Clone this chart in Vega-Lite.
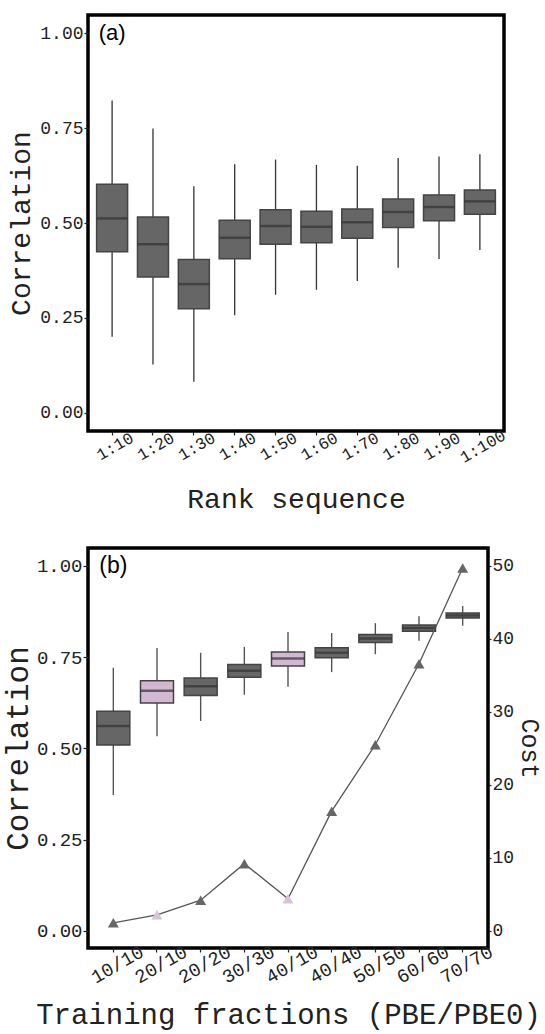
{
  "$schema": "https://vega.github.io/schema/vega-lite/v6.json",
  "background": "white",
  "padding": {"top": 13, "left": 0, "right": 5, "bottom": 0},
  "spacing": 30,
  "config": {
    "view": {"stroke": "black", "strokeWidth": 3.5},
    "axis": {"labelFont": "Liberation Mono", "titleFont": "Liberation Mono", "labelColor": "#222", "titleColor": "#222", "titleFontWeight": "normal", "domain": false, "grid": false, "tickColor": "#222", "tickWidth": 1.2}
  },
  "datasets": {
    "a": [
      {"rank": "1:10", "lower": 0.200, "q1": 0.424, "median": 0.512, "q3": 0.602, "upper": 0.823},
      {"rank": "1:20", "lower": 0.127, "q1": 0.358, "median": 0.444, "q3": 0.516, "upper": 0.749},
      {"rank": "1:30", "lower": 0.082, "q1": 0.274, "median": 0.339, "q3": 0.404, "upper": 0.597},
      {"rank": "1:40", "lower": 0.257, "q1": 0.406, "median": 0.461, "q3": 0.507, "upper": 0.655},
      {"rank": "1:50", "lower": 0.311, "q1": 0.444, "median": 0.492, "q3": 0.535, "upper": 0.667},
      {"rank": "1:60", "lower": 0.324, "q1": 0.448, "median": 0.490, "q3": 0.531, "upper": 0.653},
      {"rank": "1:70", "lower": 0.347, "q1": 0.460, "median": 0.502, "q3": 0.537, "upper": 0.651},
      {"rank": "1:80", "lower": 0.382, "q1": 0.488, "median": 0.529, "q3": 0.563, "upper": 0.671},
      {"rank": "1:90", "lower": 0.405, "q1": 0.506, "median": 0.542, "q3": 0.574, "upper": 0.675},
      {"rank": "1:100", "lower": 0.429, "q1": 0.523, "median": 0.557, "q3": 0.587, "upper": 0.681}
    ],
    "b": [
      {"frac": "10/10", "lower": 0.372, "q1": 0.509, "median": 0.561, "q3": 0.602, "upper": 0.721, "cost": 1.1, "selected": "no"},
      {"frac": "20/10", "lower": 0.533, "q1": 0.624, "median": 0.658, "q3": 0.685, "upper": 0.775, "cost": 2.2, "selected": "yes"},
      {"frac": "20/20", "lower": 0.575, "q1": 0.645, "median": 0.670, "q3": 0.693, "upper": 0.762, "cost": 4.2, "selected": "no"},
      {"frac": "30/30", "lower": 0.647, "q1": 0.695, "median": 0.713, "q3": 0.730, "upper": 0.778, "cost": 9.2, "selected": "no"},
      {"frac": "40/10", "lower": 0.669, "q1": 0.726, "median": 0.746, "q3": 0.764, "upper": 0.819, "cost": 4.4, "selected": "yes"},
      {"frac": "40/40", "lower": 0.709, "q1": 0.748, "median": 0.762, "q3": 0.776, "upper": 0.816, "cost": 16.4, "selected": "no"},
      {"frac": "50/50", "lower": 0.758, "q1": 0.790, "median": 0.801, "q3": 0.812, "upper": 0.843, "cost": 25.5, "selected": "no"},
      {"frac": "60/60", "lower": 0.795, "q1": 0.821, "median": 0.830, "q3": 0.838, "upper": 0.862, "cost": 36.6, "selected": "no"},
      {"frac": "70/70", "lower": 0.836, "q1": 0.857, "median": 0.864, "q3": 0.871, "upper": 0.890, "cost": 49.7, "selected": "no"}
    ]
  },
  "vconcat": [
    {
      "width": 416,
      "height": 416,
      "data": {"name": "a"},
      "encoding": {
        "x": {"field": "rank", "type": "nominal", "sort": null,
          "scale": {"paddingInner": 0, "paddingOuter": 0.09},
          "axis": {"title": "Rank sequence", "titleFontSize": 28, "titlePadding": 20, "labelFontSize": 16.5, "labelAngle": -30, "labelAlign": "center", "labelBaseline": "middle", "labelPadding": 11, "labelOffset": 3, "tickSize": 4}}
      },
      "layer": [
        {"mark": {"type": "rule", "color": "#333", "strokeWidth": 1.3},
          "encoding": {
            "y": {"field": "lower", "type": "quantitative", "title": "Correlation",
              "scale": {"domain": [-0.048, 1.048], "nice": false, "zero": false},
              "axis": {"values": [0, 0.25, 0.5, 0.75, 1], "format": ".2f", "titleFontSize": 28, "titlePadding": 4, "labelFontSize": 18, "labelPadding": 1, "tickSize": 4}},
            "y2": {"field": "upper"}}},
        {"mark": {"type": "bar", "size": 31, "fill": "#666666", "stroke": "#444444", "strokeWidth": 1.5},
          "encoding": {"y": {"field": "q1", "type": "quantitative", "title": "Correlation"}, "y2": {"field": "q3"}}},
        {"mark": {"type": "tick", "size": 31, "thickness": 2.5, "color": "#333333"},
          "encoding": {"y": {"field": "median", "type": "quantitative", "title": "Correlation"}}},
        {"data": {"values": [{"label": "(a)", "rank": "1:10", "v": 1.0}]},
          "mark": {"type": "text", "font": "Liberation Sans", "fontSize": 22, "align": "center", "baseline": "middle", "color": "#000"},
          "encoding": {"y": {"field": "v", "type": "quantitative", "title": "Correlation"}, "text": {"field": "label"}}}
      ]
    },
    {
      "width": 400,
      "height": 400,
      "data": {"name": "b"},
      "encoding": {
        "x": {"field": "frac", "type": "nominal", "sort": null,
          "scale": {"paddingInner": 0, "paddingOuter": 0.08},
          "axis": {"title": "Training fractions (PBE/PBE0)", "titleFontSize": 29, "titlePadding": 14, "labelFontSize": 19, "labelAngle": -30, "labelAlign": "center", "labelBaseline": "middle", "labelPadding": 12, "labelOffset": 4, "tickSize": 4}}
      },
      "layer": [
        {
          "layer": [
            {"mark": {"type": "rule", "color": "#555", "strokeWidth": 1.4},
              "encoding": {
                "y": {"field": "lower", "type": "quantitative", "title": "Correlation",
                  "scale": {"domain": [-0.047, 1.049], "nice": false, "zero": false},
                  "axis": {"values": [0, 0.25, 0.5, 0.75, 1], "format": ".2f", "titleFontSize": 31, "titlePadding": 2, "labelFontSize": 19, "labelPadding": 1, "tickSize": 5}},
                "y2": {"field": "upper"}}},
            {"mark": {"type": "bar", "size": 33, "stroke": "#444444", "strokeWidth": 1.5},
              "encoding": {"y": {"field": "q1", "type": "quantitative", "title": "Correlation"}, "y2": {"field": "q3"},
                "fill": {"field": "selected", "type": "nominal", "scale": {"domain": ["no", "yes"], "range": ["#666666", "#d3b8d3"]}, "legend": null}}},
            {"mark": {"type": "tick", "size": 33, "thickness": 2.5, "color": "#333333"},
              "encoding": {"y": {"field": "median", "type": "quantitative", "title": "Correlation"}}},
            {"data": {"values": [{"label": "(b)", "frac": "10/10", "v": 1.0}]},
              "mark": {"type": "text", "font": "Liberation Sans", "fontSize": 23, "align": "center", "baseline": "middle", "color": "#000"},
              "encoding": {"y": {"field": "v", "type": "quantitative", "title": "Correlation"}, "text": {"field": "label"}}}
          ]
        },
        {
          "layer": [
            {"mark": {"type": "line", "color": "#555", "strokeWidth": 1.3},
              "encoding": {
                "y": {"field": "cost", "type": "quantitative", "title": "Cost",
                  "scale": {"domain": [-2.35, 52.45], "nice": false, "zero": false},
                  "axis": {"orient": "right", "values": [0, 10, 20, 30, 40, 50], "titleFontSize": 25, "titleAngle": 90, "titlePadding": 3, "labelFontSize": 18, "labelPadding": 1, "tickSize": 3}}}},
            {"mark": {"type": "point", "shape": "triangle-up", "filled": true, "size": 120, "opacity": 1},
              "encoding": {"y": {"field": "cost", "type": "quantitative", "title": "Cost"},
                "color": {"field": "selected", "type": "nominal", "scale": {"domain": ["no", "yes"], "range": ["#666666", "#d8c2d8"]}, "legend": null}}}
          ]
        }
      ],
      "resolve": {"scale": {"y": "independent"}}
    }
  ]
}
